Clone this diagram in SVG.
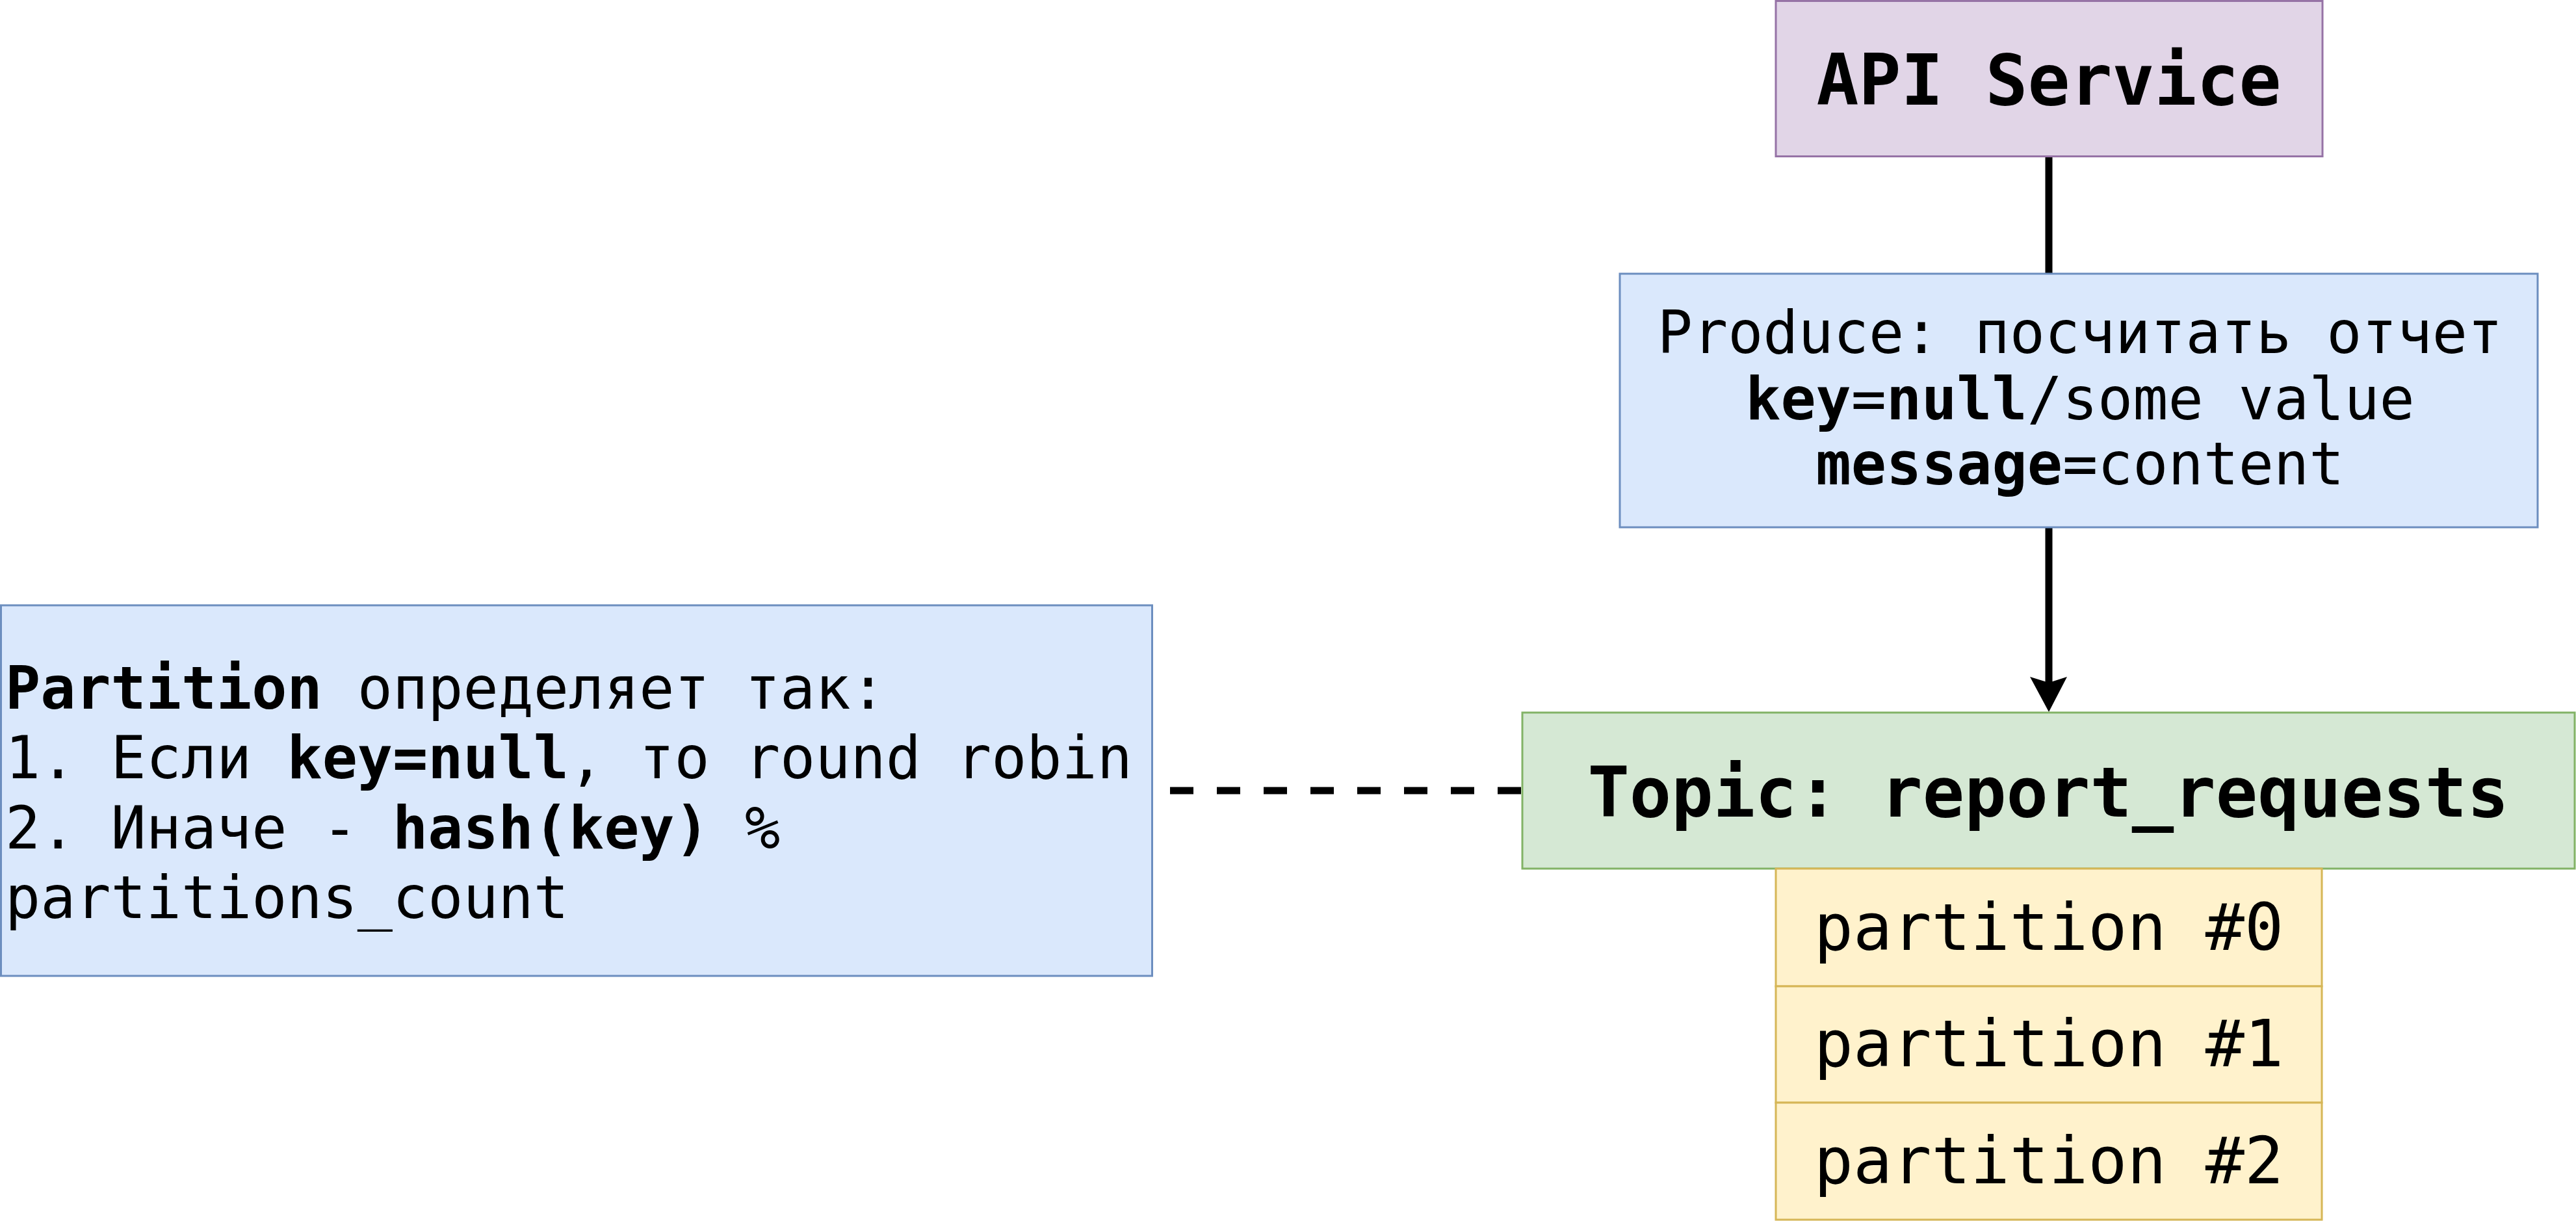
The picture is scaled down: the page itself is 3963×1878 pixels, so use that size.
<svg xmlns="http://www.w3.org/2000/svg" width="3963" height="1878" viewBox="0 0 3963 1878">
<style>
text{font-family:"DejaVu Sans Mono","Liberation Mono",monospace;fill:#000}
.b{font-weight:bold}
.purple{fill:#e1d5e7;stroke:#9673a6;stroke-width:3}
.blue{fill:#dae8fc;stroke:#6c8ebf;stroke-width:3}
.green{fill:#d5e8d4;stroke:#82b366;stroke-width:3}
.yellow{fill:#fff2cc;stroke:#d6b656;stroke-width:3}
.conn{fill:none;stroke:#000;stroke-width:11}
</style>
<defs>
<marker id="arr" markerUnits="userSpaceOnUse" markerWidth="60" markerHeight="60" viewBox="0 0 56 54" refX="28" refY="54" orient="auto-start-reverse">
<path d="M0 0 L28 10 L56 0 L28 54 Z" fill="#000"/>
</marker>
</defs>
<rect width="3963" height="1878" fill="#fff"/>
<g id="connectors">
<path class="conn" d="M3152 241 V421"/>
<path class="conn" d="M3152 811 V1050"/>
<path d="M3123 1041 L3152 1050 L3180 1041 L3152 1095 Z" fill="#000"/>
<path class="conn" d="M1800 1216 H2341" stroke-dasharray="36 36"/>
</g>
<g id="api-service">
<rect class="purple" x="2732" y="1.5" width="841" height="239"/>
<text class="b" x="3152" y="161" font-size="108" text-anchor="middle">API Service</text>
</g>
<g id="produce">
<rect class="blue" x="2492" y="421" width="1412" height="390"/>
<text x="3200" y="543" font-size="90" text-anchor="middle">Produce: посчитать отчет</text>
<text x="3200" y="645" font-size="90" text-anchor="middle"><tspan class="b">key</tspan>=<tspan class="b">null</tspan>/some value</text>
<text x="3200" y="745" font-size="90" text-anchor="middle"><tspan class="b">message</tspan>=content</text>
</g>
<g id="partition-note">
<rect class="blue" x="1.5" y="931" width="1771" height="570"/>
<text x="8" y="1090" font-size="90"><tspan class="b">Partition</tspan> определяет так:</text>
<text x="8" y="1197" font-size="90">1. Если <tspan class="b">key=null</tspan>, то round robin</text>
<text x="8" y="1305" font-size="90">2. Иначе - <tspan class="b">hash(key)</tspan> %</text>
<text x="8" y="1412" font-size="90">partitions_count</text>
</g>
<g id="topic">
<rect class="green" x="2342" y="1096" width="1619" height="240"/>
<text class="b" x="3151" y="1256" font-size="107" text-anchor="middle">Topic: report_requests</text>
</g>
<g id="partition-0">
<rect class="yellow" x="2732" y="1336" width="840" height="181"/>
<text x="3152" y="1461" font-size="100" text-anchor="middle">partition #0</text>
</g>
<g id="partition-1">
<rect class="yellow" x="2732" y="1517" width="840" height="179"/>
<text x="3152" y="1640" font-size="100" text-anchor="middle">partition #1</text>
</g>
<g id="partition-2">
<rect class="yellow" x="2732" y="1696" width="840" height="180"/>
<text x="3152" y="1820" font-size="100" text-anchor="middle">partition #2</text>
</g>
</svg>
